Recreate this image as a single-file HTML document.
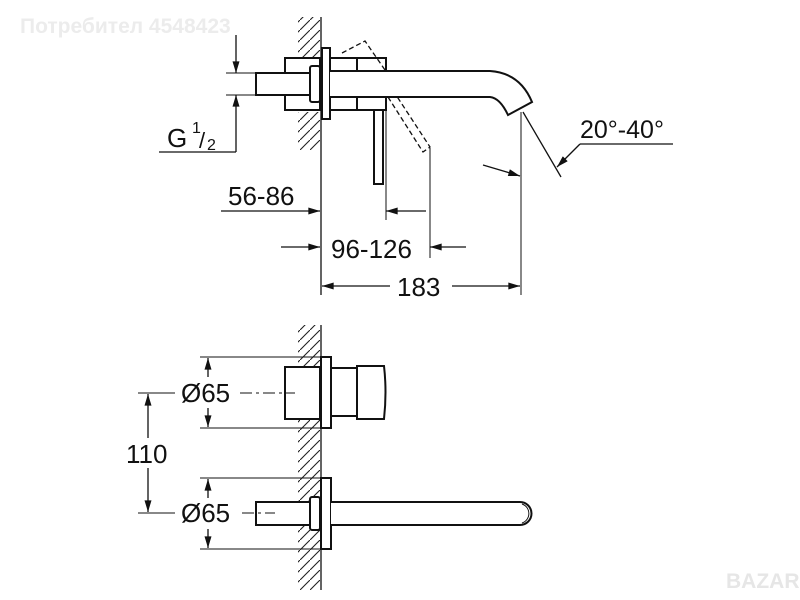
<!DOCTYPE html>
<html><head><meta charset="utf-8"><style>
html,body{margin:0;padding:0;background:#fff;width:800px;height:600px;overflow:hidden}
svg{display:block}
text{font-family:"Liberation Sans",sans-serif;fill:#111}
</style></head><body>
<svg width="800" height="600" viewBox="0 0 800 600" xmlns="http://www.w3.org/2000/svg">
<defs>
<pattern id="h" width="10" height="10" patternUnits="userSpaceOnUse">
<path d="M0,10 L10,0" stroke="#222" stroke-width="1.1"/>
</pattern>
<marker id="a" viewBox="0 0 10 6" refX="10" refY="3" markerWidth="13" markerHeight="7" orient="auto" markerUnits="userSpaceOnUse"><path d="M0,0 L10,3 L0,6z" fill="#111"/></marker>
</defs>
<text x="20" y="33" font-size="21" font-weight="bold" style="fill:#ececec">Потребител 4548423</text>

<g stroke="#111" fill="none" stroke-width="1.3">
<rect x="298" y="17" width="22" height="40" fill="url(#h)" stroke="none"/>
<rect x="298" y="112" width="22" height="38" fill="url(#h)" stroke="none"/>
<line x1="321" y1="17" x2="321" y2="295"/>
<rect x="285" y="58" width="35" height="52" fill="#fff" stroke-width="2"/>
<rect x="256" y="73" width="54" height="22" fill="#fff" stroke-width="2"/>
<rect x="310" y="66" width="10" height="36" rx="2" fill="#fff" stroke-width="2"/>
<rect x="322" y="48" width="8" height="71" fill="#fff" stroke-width="2"/>
<rect x="330" y="58" width="27" height="52" fill="#fff" stroke-width="2"/>
<rect x="357" y="58" width="29" height="52" fill="#fff" stroke-width="2"/>
<path d="M330,71 H490 Q520,73 532,102 L508,115 Q500,98 490,97 H330" fill="#fff" stroke-width="2"/>
<rect x="374" y="110" width="9" height="74" fill="#fff" stroke-width="2"/>
<path d="M342,53 L365,41 L385,70 M388,97 L423,152 L430,147 L396,95" stroke-dasharray="5,3"/>
<line x1="226" y1="73" x2="256" y2="73" stroke-width="1"/>
<line x1="226" y1="95" x2="256" y2="95" stroke-width="1"/>
<line x1="236" y1="35" x2="236" y2="73" marker-end="url(#a)"/>
<line x1="236" y1="152" x2="236" y2="95" marker-end="url(#a)"/>
<line x1="159" y1="152" x2="236" y2="152"/>
<line x1="221" y1="211" x2="320" y2="211" marker-end="url(#a)"/>
<line x1="386" y1="110" x2="386" y2="220" stroke-width="1"/>
<line x1="426" y1="211" x2="386" y2="211" marker-end="url(#a)"/>
<line x1="430" y1="148" x2="430" y2="258" stroke-width="1"/>
<line x1="281" y1="247" x2="320" y2="247" marker-end="url(#a)"/>
<line x1="466" y1="247" x2="430" y2="247" marker-end="url(#a)"/>
<line x1="521" y1="112" x2="521" y2="295" stroke-width="1"/>
<line x1="390" y1="286" x2="322" y2="286" marker-end="url(#a)"/>
<line x1="452" y1="286" x2="520" y2="286" marker-end="url(#a)"/>
<line x1="523" y1="112" x2="561" y2="177"/>
<path d="M483,165 Q500,170 520,176" marker-end="url(#a)"/>
<line x1="580" y1="144" x2="673" y2="144"/>
<line x1="580" y1="144" x2="557" y2="167" marker-end="url(#a)"/>

<rect x="298" y="325" width="22" height="265" fill="url(#h)" stroke="none"/>
<line x1="321" y1="325" x2="321" y2="590"/>
<rect x="285" y="367" width="35" height="52" fill="#fff" stroke-width="2"/>
<rect x="321" y="357" width="10" height="71" fill="#fff" stroke-width="2"/>
<rect x="331" y="368" width="26" height="48" fill="#fff" stroke-width="2"/>
<path d="M357,366 H384 Q387,392 384,419 H357z" fill="#fff" stroke-width="2"/>
<rect x="321" y="478" width="10" height="71" fill="#fff" stroke-width="2"/>
<rect x="256" y="502" width="54" height="23" fill="#fff" stroke-width="2"/>
<rect x="310" y="497" width="10" height="33" rx="2" fill="#fff" stroke-width="2"/>
<path d="M331,502 H520 A11.5,11.5 0 0 1 520,525 H331" fill="#fff" stroke-width="2"/>
<path d="M522,504 A10,10 0 0 1 522,523" stroke-width="1"/>
<line x1="200" y1="357" x2="320" y2="357" stroke-width="1"/>
<line x1="200" y1="428" x2="320" y2="428" stroke-width="1"/>
<line x1="208" y1="377" x2="208" y2="358" marker-end="url(#a)"/>
<line x1="208" y1="408" x2="208" y2="427" marker-end="url(#a)"/>
<line x1="240" y1="393" x2="295" y2="393" stroke-dasharray="12,4,3,4" stroke-width="1"/>
<line x1="200" y1="478" x2="320" y2="478" stroke-width="1"/>
<line x1="200" y1="549" x2="320" y2="549" stroke-width="1"/>
<line x1="208" y1="498" x2="208" y2="479" marker-end="url(#a)"/>
<line x1="208" y1="529" x2="208" y2="548" marker-end="url(#a)"/>
<line x1="242" y1="513" x2="275" y2="513" stroke-dasharray="12,4,3,4" stroke-width="1"/>
<line x1="138" y1="393" x2="175" y2="393" stroke-width="1"/>
<line x1="138" y1="513" x2="175" y2="513" stroke-width="1"/>
<line x1="148" y1="438" x2="148" y2="394" marker-end="url(#a)"/>
<line x1="148" y1="468" x2="148" y2="512" marker-end="url(#a)"/>
</g>

<text x="167" y="147" font-size="26">G</text>
<text x="192" y="133" font-size="16">1</text>
<text x="199" y="148" font-size="22">/</text>
<text x="207" y="150" font-size="16">2</text>
<text x="228" y="205" font-size="26">56-86</text>
<text x="331" y="258" font-size="26">96-126</text>
<text x="397" y="296" font-size="26">183</text>
<text x="580" y="138" font-size="25">20°-40°</text>
<text x="181" y="402" font-size="26">Ø65</text>
<text x="181" y="522" font-size="26">Ø65</text>
<text x="126" y="463" font-size="26">110</text>
<text x="726" y="588" font-size="21" font-weight="bold" style="fill:#e6e6e6">BAZAR</text>
</svg>
</body></html>
